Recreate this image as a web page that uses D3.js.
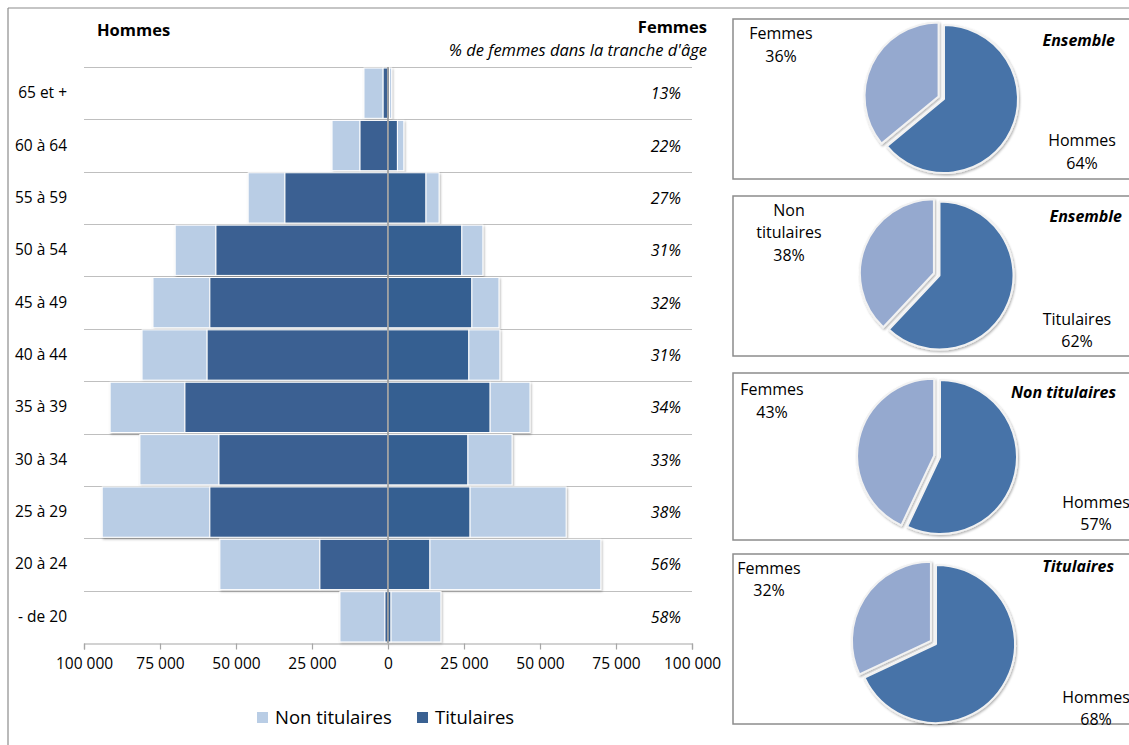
<!DOCTYPE html>
<html>
<head>
<meta charset="utf-8">
<script src="https://cdn.jsdelivr.net/npm/d3@7"></script>
<style>
body { margin: 0; background: #fff; }
svg text { font-family: "Open Sans", sans-serif; fill: #000; }
</style>
</head>
<body>
<div id="canvas"></div>
<script>
// ----------------------------------------------------------
// DATA -----------------------------------------------------
// ----------------------------------------------------------
var ages = ["65 et +", "60 à 64", "55 à 59", "50 à 54", "45 à 49", "40 à 44",
            "35 à 39", "30 à 34", "25 à 29", "20 à 24", "- de 20"];
var hommesTitulaires    = [1600, 9200, 33900, 56600, 58600, 59500, 66800, 55600, 58600, 22400, 1000];
var hommesNonTitulaires = [6300, 9200, 12100, 13400, 18700, 21400, 24600, 26000, 35400, 32900, 14800];
var femmesTitulaires    = [500, 3100, 12500, 24300, 27600, 26600, 33600, 26300, 27000, 13800, 1000];
var femmesNonTitulaires = [700, 2100, 4300, 6900, 8900, 10200, 13100, 14500, 31600, 56200, 16400];
var pctFemmes = ["13%", "22%", "27%", "31%", "32%", "31%", "34%", "33%", "38%", "56%", "58%"];
var axisTicks = [-100000, -75000, -50000, -25000, 0, 25000, 50000, 75000, 100000];
var seriesNames = ["Non titulaires", "Titulaires"];

var pieTitles = ["Ensemble", "Ensemble", "Non titulaires", "Titulaires"];
var pieDarkNames = ["Hommes", "Titulaires", "Hommes", "Hommes"];
var pieLightNames = ["Femmes", "Non titulaires", "Femmes", "Femmes"];
var pieDarkValues = [64, 62, 57, 68];
var pieLightValues = [36, 38, 43, 32];

// ----------------------------------------------------------
// STRUCTURE ------------------------------------------------
// ----------------------------------------------------------
var W = 1129, H = 745;
var colLight = "#b9cde5", colDark = "#3a6192", colDarkF = "#365f91";
var pieDark = "#4673a8", pieLight = "#95a9cf";
var fmt = d3.formatLocale({decimal: ",", thousands: " ", grouping: [3], currency: ["", "€"]}).format(",");

var svg = d3.select("#canvas").append("svg")
  .attr("width", W)
  .attr("height", H);

var defs = svg.append("defs");
defs.append("filter").attr("id", "shadow")
  .attr("x", "-10%").attr("y", "-10%").attr("width", "120%").attr("height", "120%")
  .append("feDropShadow")
  .attr("dx", 1).attr("dy", 1.5).attr("stdDeviation", 1)
  .attr("flood-color", "#000").attr("flood-opacity", 0.3);

// outer frame of the pyramid pane
svg.append("line").attr("x1", 8).attr("y1", 8).attr("x2", W).attr("y2", 8)
  .attr("stroke", "#8c8c8c").attr("stroke-width", 1.2);
svg.append("line").attr("x1", 8).attr("y1", 8).attr("x2", 8).attr("y2", H)
  .attr("stroke", "#8c8c8c").attr("stroke-width", 1.2);

// ----------------------------------------------------------
// PYRAMID --------------------------------------------------
// ----------------------------------------------------------
var x = d3.scaleLinear().domain([-100000, 100000]).range([84, 692]);
var y = d3.scaleBand().domain(ages).range([67, 643]).paddingInner(0.04).paddingOuter(0.02);
var step = y.step();

var pyr = svg.append("g").attr("class", "pyramid");

// grid lines
pyr.append("g").selectAll("line")
  .data(ages)
  .join("line")
  .attr("x1", x(-100000)).attr("x2", x(100000))
  .attr("y1", (d) => Math.round(67 + ages.indexOf(d) * step) + 0.5)
  .attr("y2", (d) => Math.round(67 + ages.indexOf(d) * step) + 0.5)
  .attr("stroke", "#bfbfbf").attr("stroke-width", 1);

var rows = ages.map((a, i) => ({
  age: a,
  ht: hommesTitulaires[i], hn: hommesNonTitulaires[i],
  ft: femmesTitulaires[i], fn: femmesNonTitulaires[i],
  pct: pctFemmes[i]
}));

var bars = pyr.append("g").attr("filter", "url(#shadow)");
// men non titulaires
bars.selectAll(".hn").data(rows).join("rect")
  .attr("x", (d) => x(-(d.ht + d.hn)))
  .attr("width", (d) => x(-d.ht) - x(-(d.ht + d.hn)))
  .attr("y", (d) => y(d.age)).attr("height", y.bandwidth())
  .attr("fill", colLight).attr("stroke", "#fff").attr("stroke-width", 1);
// men titulaires
bars.selectAll(".ht").data(rows).join("rect")
  .attr("x", (d) => x(-d.ht))
  .attr("width", (d) => x(0) - x(-d.ht))
  .attr("y", (d) => y(d.age)).attr("height", y.bandwidth())
  .attr("fill", colDark).attr("stroke", "#fff").attr("stroke-width", 1);
// women titulaires
bars.selectAll(".ft").data(rows).join("rect")
  .attr("x", x(0))
  .attr("width", (d) => x(d.ft) - x(0))
  .attr("y", (d) => y(d.age)).attr("height", y.bandwidth())
  .attr("fill", colDarkF).attr("stroke", "#fff").attr("stroke-width", 1);
// women non titulaires
bars.selectAll(".fn").data(rows).join("rect")
  .attr("x", (d) => x(d.ft))
  .attr("width", (d) => x(d.ft + d.fn) - x(d.ft))
  .attr("y", (d) => y(d.age)).attr("height", y.bandwidth())
  .attr("fill", colLight).attr("stroke", "#fff").attr("stroke-width", 1);

// center line
pyr.append("line")
  .attr("x1", x(0)).attr("x2", x(0)).attr("y1", 67).attr("y2", 643)
  .attr("stroke", "#8f8f8f").attr("stroke-width", 1.5);

// bottom axis
var axis = pyr.append("g")
  .attr("transform", "translate(0,643.5)")
  .call(d3.axisBottom(x).tickValues(axisTicks).tickSize(6).tickPadding(8)
    .tickFormat((d) => fmt(Math.abs(d))));
axis.selectAll("path, line").attr("stroke", "#a6a6a6").attr("stroke-width", 1.2);
axis.selectAll("text").attr("font-size", 15.5).attr("font-family", "Open Sans, sans-serif");

// age labels
pyr.append("g").selectAll("text").data(rows).join("text")
  .attr("x", 67).attr("y", (d) => y(d.age) + y.bandwidth() / 2 + 5)
  .attr("text-anchor", "end").attr("font-size", 15.5)
  .text((d) => d.age);

// % women labels
pyr.append("g").selectAll("text").data(rows).join("text")
  .attr("x", 681).attr("y", (d) => y(d.age) + y.bandwidth() / 2 + 6)
  .attr("text-anchor", "end").attr("font-size", 16).attr("font-style", "italic")
  .text((d) => d.pct);

// headers
svg.append("text").attr("x", 97).attr("y", 36).attr("font-size", 16.5).attr("font-weight", "bold").text("Hommes");
svg.append("text").attr("x", 707).attr("y", 33).attr("text-anchor", "end").attr("font-size", 16.5).attr("font-weight", "bold").text("Femmes");
svg.append("text").attr("x", 707).attr("y", 56).attr("text-anchor", "end").attr("font-size", 16.5).attr("font-style", "italic")
  .text("% de femmes dans la tranche d'âge");

// legend
var legend = svg.append("g");
var legX = [257, 417];
seriesNames.forEach((s, i) => {
  legend.append("rect").attr("x", legX[i]).attr("y", 712).attr("width", 11).attr("height", 11)
    .attr("fill", i === 0 ? colLight : colDark);
  legend.append("text").attr("x", legX[i] + 18).attr("y", 723.5).attr("font-size", 18.5).text(s);
});

// ----------------------------------------------------------
// PIES -----------------------------------------------------
// ----------------------------------------------------------
var boxes = [
  {top: 19, bottom: 179, cx: 944, cy: 99, r: 74},
  {top: 196, bottom: 356, cx: 939.5, cy: 275.5, r: 74},
  {top: 373, bottom: 540, cx: 940, cy: 457, r: 77},
  {top: 554, bottom: 724, cx: 936, cy: 644, r: 79}
];
var labelPos = [
  {lx: 781, ly: [39, 62], dx: 1082, dy: [146, 169], tx: 1115, ty: 46},
  {lx: 789, ly: [216, 238, 261], dx: 1077, dy: [325, 347], tx: 1122, ty: 222},
  {lx: 772, ly: [395, 418], dx: 1096, dy: [508, 530], tx: 1116, ty: 398},
  {lx: 769, ly: [574, 596], dx: 1096, dy: [703, 725], tx: 1114, ty: 572}
];

var pie = d3.pie().sort(null).value((d) => d.v);
var arc = d3.arc().innerRadius(0);

boxes.forEach((b, i) => {
  var g = svg.append("g");
  g.append("rect").attr("x", 733).attr("y", b.top).attr("width", 420).attr("height", b.bottom - b.top)
    .attr("fill", "#fff").attr("stroke", "#8c8c8c").attr("stroke-width", 1.5);

  var slices = pie([{v: pieDarkValues[i], c: pieDark}, {v: pieLightValues[i], c: pieLight, ex: 6}]);
  var pg = g.append("g").attr("transform", `translate(${b.cx},${b.cy})`).attr("filter", "url(#shadow)");
  pg.selectAll("path").data(slices).join("path")
    .attr("d", (d) => arc.outerRadius(b.r)(d))
    .attr("transform", (d) => {
      if (!d.data.ex) return null;
      var a = (d.startAngle + d.endAngle) / 2;
      return `translate(${Math.sin(a) * d.data.ex},${-Math.cos(a) * d.data.ex})`;
    })
    .attr("fill", (d) => d.data.c)
    .attr("stroke", "#f2f2f2").attr("stroke-width", 2).attr("stroke-linejoin", "round");

  var p = labelPos[i];
  var lightLines = pieLightNames[i] === "Non titulaires" ? ["Non", "titulaires"] : [pieLightNames[i]];
  lightLines.push(pieLightValues[i] + "%");
  lightLines.forEach((t, k) => {
    g.append("text").attr("x", p.lx).attr("y", p.ly[k]).attr("text-anchor", "middle").attr("font-size", 16).text(t);
  });
  [pieDarkNames[i], pieDarkValues[i] + "%"].forEach((t, k) => {
    g.append("text").attr("x", p.dx).attr("y", p.dy[k]).attr("text-anchor", "middle").attr("font-size", 16).text(t);
  });
  g.append("text").attr("x", p.tx).attr("y", p.ty).attr("text-anchor", "end").attr("font-size", 16)
    .attr("font-weight", "bold").attr("font-style", "italic").text(pieTitles[i]);
});
</script>
</body>
</html>
